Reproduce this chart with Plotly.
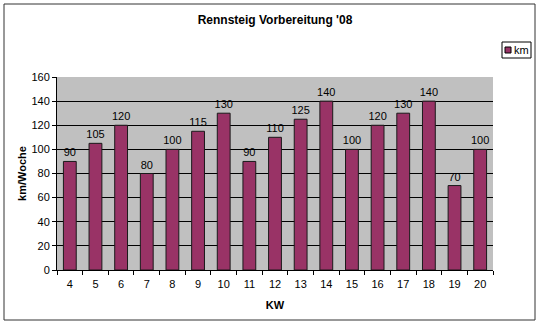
import plotly.graph_objects as go

weeks = ["4", "5", "6", "7", "8", "9", "10", "11", "12", "13", "14", "15", "16", "17", "18", "19", "20"]
km = [90, 105, 120, 80, 100, 115, 130, 90, 110, 125, 140, 100, 120, 130, 140, 70, 100]
series_name = "km"
y_ticks = [0, 20, 40, 60, 80, 100, 120, 140, 160]

W, H = 540, 326
L, R, T, B = 57, 493, 77, 270
pw, ph = R - L, B - T

def px(x):
    return (x - L) / pw

def py(y):
    return (B - y) / ph

FONT = "Liberation Sans, Arial, sans-serif"

fig = go.Figure()
fig.add_trace(go.Bar(
    x=weeks, y=km, name=series_name,
    marker=dict(color="#993366", line=dict(color="#1a1a1a", width=1)),
    text=[str(v) for v in km], textposition="outside", constraintext="none",
    textfont=dict(family=FONT, size=11, color="black"),
    cliponaxis=False, showlegend=False,
))

shapes = [
    dict(type="rect", xref="paper", yref="paper",
         x0=px(4), x1=px(535), y0=py(320), y1=py(4),
         line=dict(color="#333333", width=1), fillcolor="rgba(0,0,0,0)", layer="below"),
    dict(type="rect", xref="paper", yref="paper",
         x0=px(502), x1=px(531), y0=py(58), y1=py(42),
         line=dict(color="black", width=1), fillcolor="white"),
    dict(type="rect", xref="paper", yref="paper",
         x0=px(505), x1=px(511), y0=py(53), y1=py(47),
         line=dict(color="black", width=1), fillcolor="#993366"),
]

annotations = [
    dict(text=series_name, xref="paper", yref="paper", x=px(512), y=py(50),
         xanchor="left", yanchor="middle", showarrow=False,
         font=dict(family=FONT, size=11, color="black")),
]

fig.update_layout(
    width=W, height=H,
    margin=dict(l=L, r=W - R, t=T, b=H - B),
    paper_bgcolor="white", plot_bgcolor="#c0c0c0",
    title=dict(text="<b>Rennsteig Vorbereitung '08</b>", x=0.5, xref="paper",
               xanchor="center", y=1 - 20 / H, yanchor="middle",
               font=dict(family=FONT, size=12, color="black")),
    bargap=0.5,
    uniformtext=dict(minsize=11, mode="show"),
    shapes=shapes, annotations=annotations,
    font=dict(family=FONT, size=11, color="black"),
    xaxis=dict(
        title=dict(text="<b>KW</b>", font=dict(family=FONT, size=11, color="black"), standoff=12),
        type="category", showline=True, linecolor="black", linewidth=1,
        ticks="outside", tickson="boundaries", ticklen=4, tickcolor="black",
        ticklabelstandoff=4,
        showgrid=False, tickfont=dict(family=FONT, size=11, color="black"),
    ),
    yaxis=dict(
        title=dict(text="<b>km/Woche</b>", font=dict(family=FONT, size=11, color="black"), standoff=2),
        range=[0, 160], tickvals=y_ticks, showline=True, linecolor="black", linewidth=1,
        ticks="outside", ticklen=4, tickcolor="black",
        showgrid=True, gridcolor="black", gridwidth=1, zeroline=False,
        tickfont=dict(family=FONT, size=11, color="black"),
    ),
)

fig.write_html("out.html")
